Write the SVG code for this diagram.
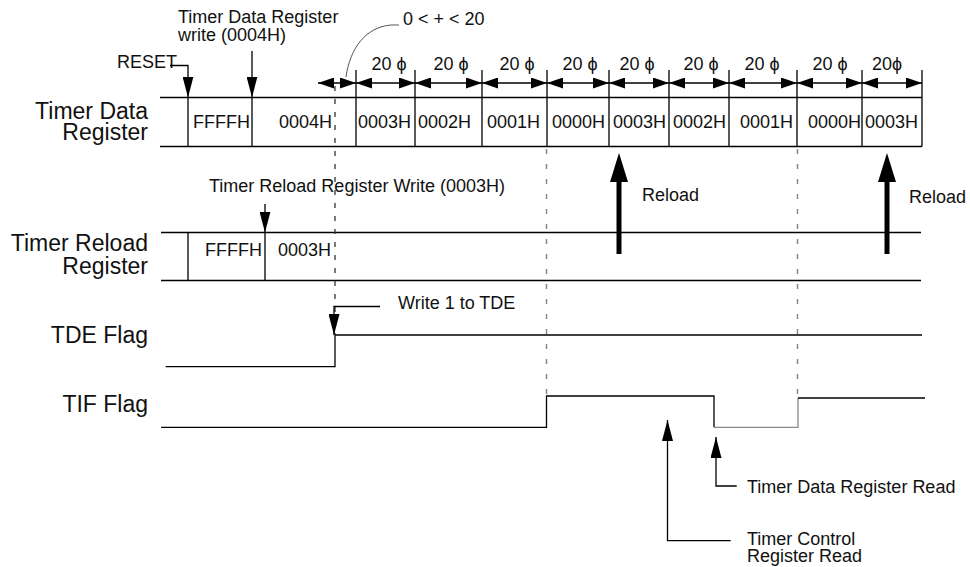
<svg xmlns="http://www.w3.org/2000/svg" width="970" height="567" viewBox="0 0 970 567">
<defs>
<style>
text{font-family:"Liberation Sans",Arial,Helvetica,"DejaVu Sans",sans-serif;fill:#111;}
.big{font-size:23px;text-anchor:end;}
.sm{font-size:18px;}
.dim{font-size:18px;text-anchor:middle;}
.ln{stroke:#000;stroke-width:1.3;fill:none;}
.gl{stroke:#888;stroke-width:1.3;fill:none;}
.dash{stroke:#333;stroke-width:1.3;stroke-dasharray:5 8;fill:none;}
.gdash{stroke:#888;stroke-width:1.5;stroke-dasharray:5 10;fill:none;}
.ptr{stroke:#000;stroke-width:1.3;fill:none;marker-end:url(#ah);}
.dimarr{stroke:#000;stroke-width:1.3;fill:none;marker-start:url(#dh);marker-end:url(#dh);}
.reload{stroke:#000;stroke-width:5;fill:none;marker-end:url(#rh);}
</style>
<marker id="ah" viewBox="0 0 21 11" refX="21" refY="5.5" markerWidth="21" markerHeight="11" markerUnits="userSpaceOnUse" orient="auto"><path d="M0,0 L21,5.5 L0,11 z" fill="#000"/></marker>
<marker id="dh" viewBox="0 0 16 11" refX="16" refY="5.5" markerWidth="16" markerHeight="11" markerUnits="userSpaceOnUse" orient="auto-start-reverse"><path d="M0,0 L16,5.5 L0,11 z" fill="#000"/></marker>
<marker id="rh" viewBox="0 0 29 18" refX="0" refY="9" markerWidth="29" markerHeight="18" markerUnits="userSpaceOnUse" orient="auto"><path d="M0,0 L29,9 L0,18 z" fill="#000"/></marker>
</defs>
<rect width="970" height="567" fill="#fff"/>

<g id="row-labels">
<text class="big" x="148" y="119">Timer Data<tspan x="148" dy="21">Register</tspan></text>
<text class="big" x="148" y="251">Timer Reload<tspan x="148" dy="23">Register</tspan></text>
<text class="big" x="148" y="343">TDE Flag</text>
<text class="big" x="148" y="411.5">TIF Flag</text>
</g>

<g id="timer-data-register">
<path class="ln" d="M160,97.5 H922 M160,146.5 H922"/>
<path class="ln" d="M188,97.5 V146.5 M252,97.5 V146.5 M356,70 V146.5 M415,70 V146.5 M482,70 V146.5 M547,70 V146.5 M609,70 V146.5 M669,70 V146.5 M729,70 V146.5 M797,70 V146.5 M862,70 V146.5 M922,70 V146.5"/>
<text class="sm" x="193" y="127.5">FFFFH</text>
<text class="sm" x="279" y="127.5">0004H</text>
<text class="sm" x="358" y="127.5">0003H</text>
<text class="sm" x="418" y="127.5">0002H</text>
<text class="sm" x="487" y="127.5">0001H</text>
<text class="sm" x="552" y="127.5">0000H</text>
<text class="sm" x="613" y="127.5">0003H</text>
<text class="sm" x="673" y="127.5">0002H</text>
<text class="sm" x="740" y="127.5">0001H</text>
<text class="sm" x="808" y="127.5">0000H</text>
<text class="sm" x="865" y="127.5">0003H</text>
</g>

<g id="timer-reload-register">
<path class="ln" d="M161,232.5 H921 M161,280.5 H921 M188,232.5 V280.5 M265,232.5 V280.5"/>
<text class="sm" x="205" y="256">FFFFH</text>
<text class="sm" x="278" y="256">0003H</text>
</g>

<g id="tde-flag">
<path class="ln" d="M165.7,366.7 H335 V335 H922"/>
</g>

<g id="tif-flag">
<path class="ln" d="M161,427.3 H546.5 V396 H714 V427.3"/>
<path class="gl" d="M714,427.3 H798 V398"/>
<path class="ln" d="M798,398 H925"/>
</g>

<g id="annotations">
<text class="sm" x="178" y="23">Timer Data Register<tspan x="178" dy="17.5">write (0004H)</tspan></text>
<text class="sm" x="117" y="68">RESET</text>
<text class="sm" x="403" y="25">0 &lt; + &lt; 20</text>
<text class="dim" x="389" y="70">20 ϕ</text>
<text class="dim" x="451" y="70">20 ϕ</text>
<text class="dim" x="517" y="70">20 ϕ</text>
<text class="dim" x="580" y="70">20 ϕ</text>
<text class="dim" x="637" y="70">20 ϕ</text>
<text class="dim" x="701" y="70">20 ϕ</text>
<text class="dim" x="762" y="70">20 ϕ</text>
<text class="dim" x="830" y="70">20 ϕ</text>
<text class="dim" x="887" y="70">20ϕ</text>
<text class="sm" x="209" y="192">Timer Reload Register Write (0003H)</text>
<text class="sm" x="642" y="201">Reload</text>
<text class="sm" x="909" y="203">Reload</text>
<text class="sm" x="398" y="309">Write 1 to TDE</text>
<text class="sm" x="747" y="492.5">Timer Data Register Read</text>
<text class="sm" x="747" y="545">Timer Control<tspan x="747" dy="16.7">Register Read</tspan></text>
</g>

<g id="connectors">
<path class="dash" d="M335,86 V335"/>
<path class="gdash" d="M546.5,149 V396"/>
<path class="gdash" d="M797.5,149 V397"/>
<path d="M399,25 H391 C366,27 350,48 346,77" stroke="#555" stroke-width="1" fill="none"/>
<path class="ptr" d="M170,65.5 H188 V97.5"/>
<path class="ptr" d="M252,51 V97.5"/>
<path class="ptr" d="M265,204 V232.5"/>
<path class="ptr" d="M380,306.5 H334 V335"/>
<path class="ptr" d="M736.7,486 H716 V437"/>
<path class="ptr" d="M730.7,540.7 H667.5 V420"/>
<path class="reload" d="M619,254 V182"/>
<path class="reload" d="M887,254 V182"/>
<path class="dimarr" d="M318,83 H356"/>
<path class="dimarr" d="M356,83 H415"/>
<path class="dimarr" d="M415,83 H482"/>
<path class="dimarr" d="M482,83 H547"/>
<path class="dimarr" d="M547,83 H609"/>
<path class="dimarr" d="M609,83 H669"/>
<path class="dimarr" d="M669,83 H729"/>
<path class="dimarr" d="M729,83 H797"/>
<path class="dimarr" d="M797,83 H862"/>
<path class="dimarr" d="M862,83 H922"/>
</g>
</svg>
